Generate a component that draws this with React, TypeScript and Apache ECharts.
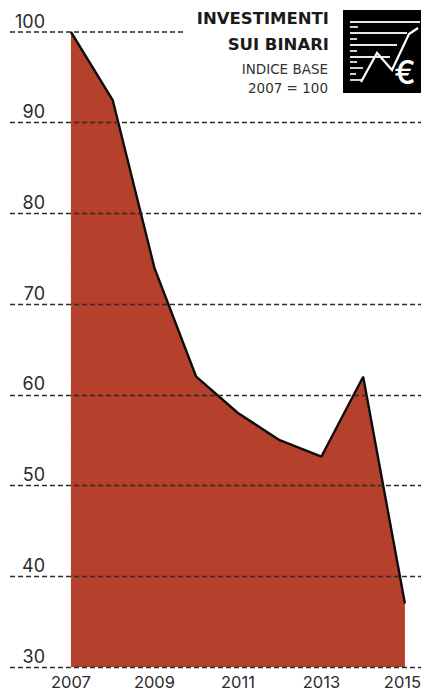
import React, { useEffect, useRef } from "react";
import * as echarts from "echarts";

const years = [2007, 2008, 2009, 2010, 2011, 2012, 2013, 2014, 2015];
const indexValues = [100, 92.5, 74, 62, 58, 55, 53.2, 62, 37];
const yearTicks = [2007, 2009, 2011, 2013, 2015];
const topRuleYears = [2005.54, 2009.73];
const titleLines = ["INVESTIMENTI", "SUI BINARI"];
const subtitleLines = ["INDICE BASE", "2007 = 100"];

const FONT = "Inter, 'Open Sans', sans-serif";
const HEAD_FONT = "'DejaVu Sans', sans-serif";
const INK = "#2b2b2b";

const iconBars: [number, number, number][] = [
  [350, 420, 22], [350, 407, 33], [350, 397, 45], [350, 390, 57],
  [350, 363, 68], [350, 362, 80],
  [350, 358, 27], [350, 357, 39], [350, 357, 51], [350, 357, 62], [350, 356, 74],
];

function iconGraphics() {
  const items: any[] = [
    { type: "rect", shape: { x: 343, y: 10, width: 78, height: 83 }, style: { fill: "#000" } },
  ];
  iconBars.forEach(([x1, x2, y]) => {
    items.push({
      type: "line",
      shape: { x1, y1: y, x2, y2: y },
      style: { stroke: "#e8e8e8", lineWidth: 1.8 },
    });
  });
  items.push({
    type: "polyline",
    shape: { points: [[361, 82], [377, 53], [392, 70], [409, 34], [418, 28]] },
    style: { stroke: "#fff", lineWidth: 2.2, fill: "none" },
  });
  items.push({
    type: "text",
    x: 405,
    y: 72,
    style: {
      text: "€", fill: "#fff", font: `500 32px ${FONT}`, textAlign: "center", textVerticalAlign: "middle",
    },
  });
  return items;
}

function titleGraphics() {
  const items: any[] = [];
  titleLines.forEach((text, i) => {
    items.push({
      type: "text",
      x: 329,
      y: 18 + i * 26,
      style: {
        text, fill: "#1a1a1a", font: `700 16.5px ${HEAD_FONT}`, textAlign: "right", textVerticalAlign: "middle",
      },
    });
  });
  subtitleLines.forEach((text, i) => {
    items.push({
      type: "text",
      x: 328,
      y: 69 + i * 19,
      style: {
        text, fill: "#333", font: `400 13.5px ${HEAD_FONT}`, textAlign: "right", textVerticalAlign: "middle",
      },
    });
  });
  return items;
}

export default function App() {
  const ref = useRef<HTMLDivElement>(null);

  useEffect(() => {
    document.body.style.margin = "0";
    const chart = echarts.init(ref.current!, null, { renderer: "svg" });
    const dash = { color: INK, width: 1.4, type: [5, 3] as number[] };
    const lastYear = yearTicks[yearTicks.length - 1];
    chart.setOption({
      animation: false,
      backgroundColor: "#ffffff",
      grid: { left: 10, right: 0, top: 32, bottom: 25, outerBoundsMode: "none" },
      xAxis: {
        type: "value",
        min: 2005.54,
        max: 2015.385,
        axisLine: { show: false },
        axisTick: { show: false },
        splitLine: { show: false },
        axisLabel: {
          customValues: yearTicks,
          // The last year sits against the right edge, so it is nudged inward.
          formatter: (v: number) => (v === lastYear ? `{edge|${v}}` : String(v)),
          rich: {
            edge: {
              color: INK,
              fontFamily: FONT,
              fontSize: 16.5,
              padding: [0, 5, 0, 0],
            },
          },
          color: INK,
          fontFamily: FONT,
          fontSize: 16.5,
          margin: 6,
          hideOverlap: false,
        },
      },
      yAxis: {
        type: "value",
        min: 30,
        max: 100,
        interval: 10,
        z: 5,
        axisLine: { show: false },
        axisTick: { show: false },
        splitLine: { show: true, showMaxLine: false, lineStyle: dash },
        axisLabel: {
          inside: true,
          margin: 35,
          align: "right",
          verticalAlign: "bottom",
          padding: [0, 0, 2, 0],
          color: INK,
          fontFamily: FONT,
          fontSize: 18,
        },
      },
      series: [
        {
          type: "line",
          z: 2,
          data: years.map((y, i) => [y, indexValues[i]]),
          symbol: "none",
          lineStyle: { color: "#0d0d0d", width: 2.4 },
          areaStyle: { color: "#b5402b", opacity: 1, origin: "start" },
        },
        {
          type: "line",
          z: 3,
          data: topRuleYears.map((y) => [y, 100]),
          symbol: "none",
          clip: false,
          lineStyle: dash,
        },
      ],
      graphic: { elements: [...titleGraphics(), ...iconGraphics()] },
    });
    return () => chart.dispose();
  }, []);

  return <div ref={ref} style={{ position: "fixed", left: 0, top: 0, width: 421, height: 692 }} />;
}
